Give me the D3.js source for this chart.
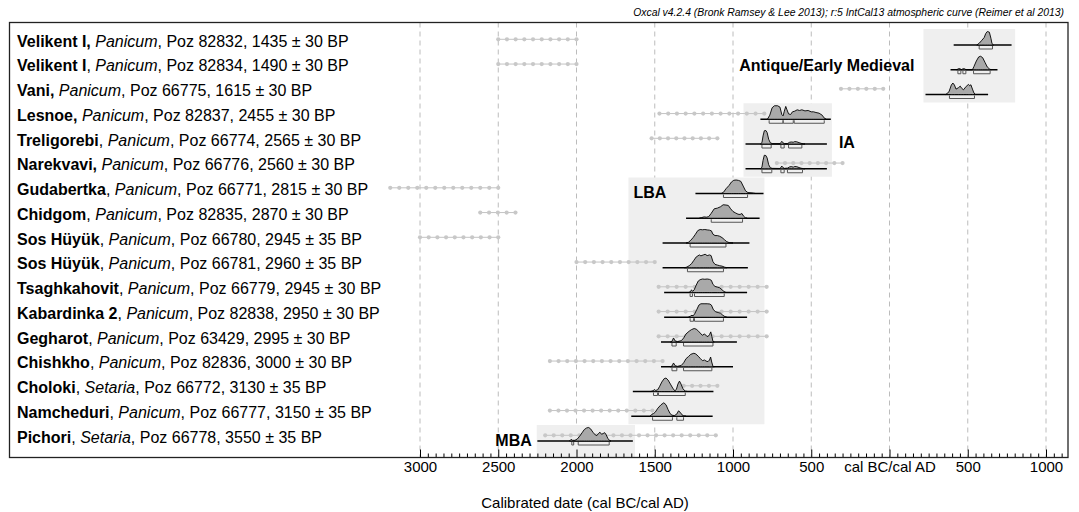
<!DOCTYPE html>
<html>
<head>
<meta charset="utf-8">
<script src="https://cdn.jsdelivr.net/npm/d3@7"></script>
<style>
body { margin: 0; background: #fff; }
svg { display: block; font-family: Arial, "Liberation Sans", sans-serif; }
</style>
</head>
<body>
<script>
// samples, top to bottom
var sites = ["Velikent I,", "Velikent I", "Vani,", "Lesnoe,", "Treligorebi", "Narekvavi,", "Gudabertka", "Chidgom",
  "Sos Hüyük", "Sos Hüyük", "Tsaghkahovit", "Kabardinka 2", "Gegharot", "Chishkho", "Choloki", "Namcheduri", "Pichori"];
var taxa = ["Panicum", "Panicum", "Panicum", "Panicum", "Panicum", "Panicum", "Panicum", "Panicum",
  "Panicum", "Panicum", "Panicum", "Panicum", "Panicum", "Panicum", "Setaria", "Panicum", "Setaria"];
var labCodes = ["Poz 82832", "Poz 82834", "Poz 66775", "Poz 82837", "Poz 66774", "Poz 66776", "Poz 66771", "Poz 82835",
  "Poz 66780", "Poz 66781", "Poz 66779", "Poz 82838", "Poz 63429", "Poz 82836", "Poz 66772", "Poz 66777", "Poz 66778"];
var bpAges = [1435, 1490, 1615, 2455, 2565, 2560, 2815, 2870, 2945, 2960, 2945, 2950, 2995, 3000, 3130, 3150, 3550];
var bpErrors = [30, 30, 30, 30, 30, 30, 30, 30, 35, 35, 30, 30, 30, 30, 35, 35, 35];

// years: negative = cal BC, positive = cal AD
var dottedRanges = [[-2500, -2000], [-2500, -2000], [-310, -40], [-1470, -800], [-1520, -1100], [-720, -300],
  [-3190, -2500], [-2615, -2390], [-3000, -2500], [-2000, -1500], [-1475, -785], [-1475, -785], [-1475, -785],
  [-2170, -1450], [-1315, -1100], [-2170, -1515], [-2200, -1110]];

var baselineRanges = [[410, 780], [390, 690], [230, 630], [-825, -375], [-920, -400], [-920, -400],
  [-1240, -805], [-1300, -830], [-1450, -895], [-1450, -905], [-1440, -910], [-1440, -910], [-1460, -975],
  [-1460, -1000], [-1640, -1125], [-1650, -1130], [-2250, -1640]];

// 95.4% ranges
var ranges95 = [
  [[573, 658]],
  [[437, 456], [469, 488], [537, 643]],
  [[383, 543]],
  [[-769, -681], [-679, -615], [-609, -417]],
  [[-815, -756], [-694, -673], [-645, -560]],
  [[-815, -752], [-694, -673], [-652, -556]],
  [[-1061, -907]],
  [[-1139, -939]],
  [[-1274, -1045]],
  [[-1291, -1061]],
  [[-1274, -1259], [-1246, -1056]],
  [[-1274, -1252], [-1246, -1061]],
  [[-1390, -1363], [-1316, -1128]],
  [[-1390, -1359], [-1316, -1135]],
  [[-1508, -1482], [-1476, -1305]],
  [[-1514, -1387], [-1359, -1316]],
  [[-2030, -2018], [-1989, -1791]]
];

// calibrated probability, [year, relative height]
var densities = [
  [[558,0],[575,0.15],[590,0.35],[605,0.55],[615,0.85],[625,1],[638,0.95],[648,0.5],[655,0.1],[665,0]],
  [[430,0],[440,0.08],[450,0.08],[460,0],[465,0.06],[478,0.08],[490,0],[530,0],[540,0.25],[555,0.65],[570,0.95],[582,1],[595,0.9],[610,0.55],[625,0.2],[640,0.05],[650,0]],
  [[360,0],[380,0.2],[395,0.7],[405,0.85],[415,0.7],[425,0.4],[440,0.5],[452,0.62],[462,0.45],[473,0.35],[490,0.6],[505,0.75],[512,0.65],[520,0.72],[530,0.4],[540,0.1],[550,0]],
  [[-780,0],[-765,0.3],[-750,0.85],[-735,1],[-715,1],[-700,0.9],[-688,0.35],[-680,0.25],[-672,0.6],[-663,0.95],[-655,0.7],[-645,0.4],[-632,0.35],[-620,0.55],[-605,0.6],[-590,0.7],[-575,0.65],[-560,0.7],[-540,0.62],[-520,0.65],[-500,0.55],[-485,0.55],[-470,0.5],[-450,0.45],[-430,0.3],[-418,0.1],[-405,0]],
  [[-825,0],[-815,0.1],[-808,0.6],[-800,0.98],[-790,1],[-782,0.85],[-772,0.35],[-762,0.1],[-750,0.03],[-700,0.02],[-693,0.12],[-688,0.2],[-682,0.1],[-672,0.03],[-650,0.04],[-640,0.12],[-628,0.15],[-615,0.13],[-605,0.18],[-592,0.16],[-578,0.1],[-565,0.05],[-550,0.01],[-540,0]],
  [[-825,0],[-815,0.12],[-808,0.62],[-800,1],[-790,0.98],[-782,0.8],[-772,0.3],[-762,0.08],[-750,0.03],[-700,0.02],[-693,0.12],[-688,0.2],[-682,0.1],[-672,0.03],[-650,0.05],[-640,0.13],[-628,0.16],[-615,0.12],[-605,0.17],[-592,0.15],[-578,0.09],[-565,0.04],[-550,0.01],[-540,0]],
  [[-1075,0],[-1060,0.1],[-1045,0.35],[-1025,0.6],[-1010,0.85],[-995,0.98],[-980,1],[-965,0.97],[-950,0.9],[-935,0.55],[-920,0.2],[-905,0.07],[-885,0.05],[-870,0.03],[-855,0]],
  [[-1215,0],[-1200,0.05],[-1185,0.1],[-1170,0.08],[-1155,0.12],[-1140,0.35],[-1120,0.7],[-1100,0.75],[-1080,0.85],[-1063,1],[-1045,0.98],[-1030,0.95],[-1015,0.7],[-1000,0.5],[-985,0.4],[-968,0.3],[-955,0.28],[-943,0.35],[-932,0.15],[-920,0.02],[-910,0]],
  [[-1300,0],[-1285,0.05],[-1270,0.2],[-1255,0.4],[-1240,0.65],[-1225,0.92],[-1210,1],[-1195,0.98],[-1180,1],[-1165,0.97],[-1150,0.95],[-1138,0.9],[-1128,0.65],[-1115,0.55],[-1100,0.55],[-1085,0.5],[-1070,0.4],[-1055,0.25],[-1040,0.1],[-1025,0.03],[-1000,0]],
  [[-1310,0],[-1295,0.05],[-1280,0.15],[-1265,0.3],[-1250,0.55],[-1235,0.8],[-1215,0.95],[-1205,0.88],[-1190,0.95],[-1178,1],[-1165,0.9],[-1150,0.95],[-1140,0.9],[-1128,0.45],[-1115,0.25],[-1100,0.2],[-1085,0.15],[-1070,0.12],[-1055,0.05],[-1040,0]],
  [[-1285,0],[-1272,0.05],[-1265,0.2],[-1258,0.08],[-1248,0.2],[-1235,0.55],[-1222,0.85],[-1210,0.95],[-1195,1],[-1180,0.98],[-1165,1],[-1150,0.97],[-1138,0.9],[-1128,0.6],[-1115,0.45],[-1100,0.4],[-1085,0.35],[-1070,0.2],[-1058,0.08],[-1045,0]],
  [[-1285,0],[-1272,0.08],[-1262,0.15],[-1255,0.1],[-1245,0.25],[-1230,0.6],[-1218,0.9],[-1205,1],[-1185,1],[-1165,1],[-1148,0.98],[-1138,0.9],[-1125,0.55],[-1110,0.4],[-1095,0.35],[-1080,0.3],[-1065,0.15],[-1052,0.05],[-1040,0]],
  [[-1400,0],[-1390,0.05],[-1380,0.3],[-1370,0.08],[-1355,0.03],[-1330,0.1],[-1315,0.3],[-1300,0.6],[-1280,0.8],[-1265,0.92],[-1248,1],[-1235,0.95],[-1220,0.8],[-1205,0.6],[-1195,0.5],[-1182,0.6],[-1170,0.45],[-1160,0.4],[-1150,0.55],[-1142,0.75],[-1135,0.4],[-1128,0.05],[-1120,0]],
  [[-1400,0],[-1390,0.05],[-1380,0.28],[-1370,0.08],[-1355,0.03],[-1330,0.1],[-1315,0.3],[-1300,0.6],[-1285,0.75],[-1270,0.92],[-1250,1],[-1238,0.95],[-1222,0.78],[-1208,0.6],[-1195,0.45],[-1182,0.5],[-1172,0.42],[-1160,0.38],[-1150,0.5],[-1143,0.72],[-1136,0.35],[-1128,0.03],[-1120,0]],
  [[-1525,0],[-1510,0.05],[-1503,0.15],[-1495,0.08],[-1482,0.12],[-1470,0.35],[-1455,0.7],[-1440,0.95],[-1428,1],[-1415,0.85],[-1400,0.55],[-1385,0.25],[-1372,0.05],[-1362,0.15],[-1352,0.55],[-1342,0.77],[-1332,0.55],[-1320,0.2],[-1305,0.03],[-1290,0]],
  [[-1530,0],[-1518,0.15],[-1508,0.2],[-1497,0.3],[-1480,0.6],[-1460,0.85],[-1442,1],[-1428,0.85],[-1415,0.5],[-1402,0.2],[-1390,0.08],[-1375,0.05],[-1360,0.15],[-1348,0.4],[-1338,0.3],[-1325,0.1],[-1315,0.02],[-1300,0]],
  [[-2045,0],[-2035,0.12],[-2025,0.05],[-2010,0.05],[-1995,0.15],[-1980,0.35],[-1965,0.6],[-1950,0.85],[-1935,0.97],[-1922,1],[-1910,0.9],[-1895,0.65],[-1880,0.45],[-1870,0.4],[-1860,0.55],[-1850,0.65],[-1840,0.5],[-1830,0.55],[-1820,0.62],[-1810,0.45],[-1800,0.2],[-1790,0.05],[-1780,0]]
];

// periods: name, first/last row, span in years
var groupNames = ["Antique/Early Medieval", "IA", "LBA", "MBA"];
var groupRows = [[0, 2], [3, 5], [6, 15], [16, 16]];
var groupSpans = [[217, 803], [-933, -368], [-1668, -799], [-2254, -1626]];

var tickYears = [-3000, -2500, -2000, -1500, -1000, -500, 0, 500, 1000];

var w = 1079;
var h = 512;
var plotLeft = 9.5, plotTop = 22.5, plotRight = 1068, plotBottom = 457.5;

var svg = d3.select("body").append("svg")
            .attr("width", w)
            .attr("height", h);

var x = d3.scaleLinear().domain([-3000, 1000]).range([420, 1046]);
var y = d3.scalePoint().domain(d3.range(sites.length)).range([45, 441]);
var hgt = d3.scaleLinear().domain([0, 1]).range([0, 13.5]);

// frame
svg.append("rect")
   .attr("x", plotLeft).attr("y", plotTop)
   .attr("width", plotRight - plotLeft).attr("height", plotBottom - plotTop)
   .attr("fill", "#fff");

// dashed grid
svg.selectAll(".grid")
   .data(tickYears)
   .enter()
   .append("line")
   .attr("x1", function(d) { return x(d); })
   .attr("x2", function(d) { return x(d); })
   .attr("y1", plotTop)
   .attr("y2", plotBottom)
   .attr("stroke", "#bcbcbc")
   .attr("stroke-dasharray", "5,4");

// period boxes
var last = sites.length - 1;
svg.selectAll(".box")
   .data(groupNames)
   .enter()
   .append("rect")
   .attr("x", function(d, i) { return x(groupSpans[i][0]); })
   .attr("width", function(d, i) { return x(groupSpans[i][1]) - x(groupSpans[i][0]); })
   .attr("y", function(d, i) { return y(groupRows[i][0]) - 16; })
   .attr("height", function(d, i) {
       var b = groupRows[i][1] === last ? plotBottom : y(groupRows[i][1]) + 8;
       return b - (y(groupRows[i][0]) - 16);
   })
   .attr("fill", "#efefef");

// grey dotted ranges
var dots = svg.append("g");
dottedRanges.forEach(function(r, i) {
    var x0 = x(r[0]), x1 = x(r[1]), yy = y(i) - 5.7;
    var n = Math.max(1, Math.round((x1 - x0) / 8.7));
    dots.append("line")
        .attr("x1", x0).attr("x2", x1).attr("y1", yy).attr("y2", yy)
        .attr("stroke", "#c4c4c4").attr("stroke-width", 1);
    dots.selectAll(null)
        .data(d3.range(n + 1))
        .enter()
        .append("circle")
        .attr("cx", function(k) { return x0 + k * (x1 - x0) / n; })
        .attr("cy", yy)
        .attr("r", 2.1)
        .attr("fill", "#c8c8c8");
});

// baselines
svg.selectAll(".base")
   .data(baselineRanges)
   .enter()
   .append("line")
   .attr("x1", function(d) { return x(d[0]); })
   .attr("x2", function(d) { return x(d[1]); })
   .attr("y1", function(d, i) { return y(i); })
   .attr("y2", function(d, i) { return y(i); })
   .attr("stroke", "#000")
   .attr("stroke-width", 1.5);

// distributions
svg.selectAll(".dist")
   .data(densities)
   .enter()
   .append("path")
   .attr("d", function(d, i) {
       var area = d3.area()
           .x(function(p) { return x(p[0]); })
           .y0(y(i))
           .y1(function(p) { return y(i) - hgt(p[1]); });
       return area(d);
   })
   .attr("fill", "#a9a9a9")
   .attr("stroke", "#000")
   .attr("stroke-width", 0.9);

// 95% range brackets
var br = svg.append("g");
ranges95.forEach(function(list, i) {
    var yb = y(i) + 4;
    list.forEach(function(r) {
        br.append("path")
          .attr("d", "M" + x(r[0]) + "," + (yb - 3) + "V" + yb + "H" + x(r[1]) + "V" + (yb - 3))
          .attr("fill", "none")
          .attr("stroke", "#555")
          .attr("stroke-width", 1);
    });
});

// row labels
var lab = svg.selectAll(".lab")
   .data(sites)
   .enter()
   .append("text")
   .attr("x", 17)
   .attr("y", function(d, i) { return y(i) + 1.7; })
   .attr("font-size", "16px")
   .attr("fill", "#000");
lab.append("tspan").attr("font-weight", "bold").text(function(d) { return d; });
lab.append("tspan").text(function(d) { return d.slice(-1) === "," ? " " : ", "; });
lab.append("tspan").attr("font-style", "italic").text(function(d, i) { return taxa[i]; });
lab.append("tspan").text(function(d, i) {
    return ", " + labCodes[i] + ", " + bpAges[i] + " ± " + bpErrors[i] + " BP";
});

// period labels
var labelSide = ["left", "right", "inside", "left"];
var labelDy = [25.5, 29, 4, 5];
svg.selectAll(".glab")
   .data(groupNames)
   .enter()
   .append("text")
   .text(function(d) { return d; })
   .attr("x", function(d, i) {
       if (labelSide[i] === "left") return x(groupSpans[i][0]) - (i === 0 ? 9 : 5);
       if (labelSide[i] === "right") return x(groupSpans[i][1]) + 7;
       return x(groupSpans[i][0]) + 5;
   })
   .attr("y", function(d, i) { return y(groupRows[i][0]) + labelDy[i]; })
   .attr("text-anchor", function(d, i) { return labelSide[i] === "left" ? "end" : "start"; })
   .attr("font-size", "16px")
   .attr("font-weight", "bold");

// axis
var minor = d3.range(-3000, 1101, 50).filter(function(v) { return v % 500 !== 0; });
var ax = svg.append("g").attr("transform", "translate(0," + plotBottom + ")");
ax.call(d3.axisBottom(x).tickValues(minor).tickSize(-4).tickFormat(""))
  .select(".domain").remove();
var ax2 = svg.append("g").attr("transform", "translate(0," + plotBottom + ")");
ax2.call(d3.axisBottom(x).tickValues(tickYears).tickSize(-8).tickPadding(4)
    .tickFormat(function(v) { return v === 0 ? "cal BC/cal AD" : Math.abs(v); }))
   .select(".domain").remove();
svg.selectAll(".tick line").attr("stroke", "#000");
ax2.selectAll("text").attr("font-size", "15px").attr("font-family", "Arial, 'Liberation Sans', sans-serif").attr("fill", "#000");

// border on top
svg.append("rect")
   .attr("x", plotLeft).attr("y", plotTop)
   .attr("width", plotRight - plotLeft).attr("height", plotBottom - plotTop)
   .attr("fill", "none")
   .attr("stroke", "#222")
   .attr("stroke-width", 1.3);

svg.append("text")
   .text("Calibrated date (cal BC/cal AD)")
   .attr("x", 585)
   .attr("y", 508)
   .attr("text-anchor", "middle")
   .attr("font-size", "15px");

svg.append("text")
   .text("Oxcal v4.2.4 (Bronk Ramsey & Lee 2013); r:5 IntCal13 atmospheric curve (Reimer et al 2013)")
   .attr("x", 1064)
   .attr("y", 16)
   .attr("text-anchor", "end")
   .attr("font-size", "10.4px")
   .attr("font-style", "italic");
</script>
</body>
</html>
